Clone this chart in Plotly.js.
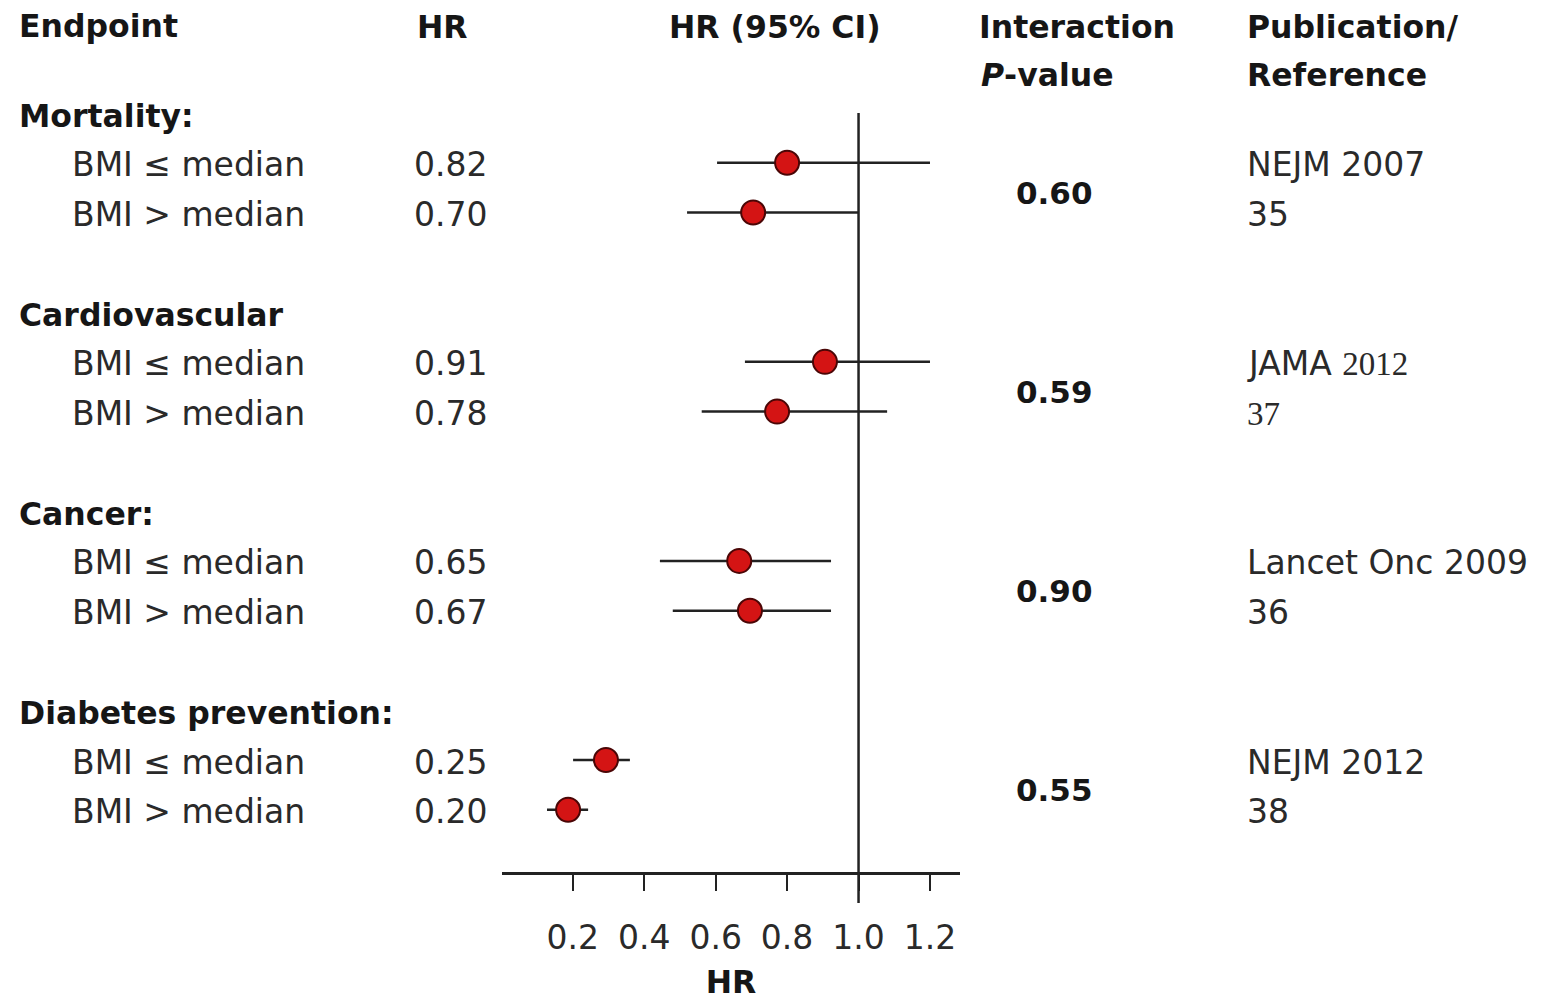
<!DOCTYPE html>
<html>
<head>
<meta charset="utf-8">
<script src="https://cdn.plot.ly/plotly-3.0.1.min.js"></script>
<style>html,body{margin:0;padding:0;background:#fff;}#chart{width:1542px;height:1005px;}</style>
</head>
<body>
<div id="chart"></div>
<script>
// ---------------- data ----------------
const groups = ['Mortality:', 'Cardiovascular', 'Cancer:', 'Diabetes prevention:'];
const groupRows = [0, 4, 8, 12];
const subgroups = ['BMI \u2264 median', 'BMI > median', 'BMI \u2264 median', 'BMI > median',
                   'BMI \u2264 median', 'BMI > median', 'BMI \u2264 median', 'BMI > median'];
const rows = [1, 2, 5, 6, 9, 10, 13, 14];
const hrLabels = ['0.82', '0.70', '0.91', '0.78', '0.65', '0.67', '0.25', '0.20'];
const hrPoint = [0.800, 0.705, 0.906, 0.772, 0.666, 0.696, 0.293, 0.187];
const ciLow   = [0.604, 0.520, 0.682, 0.561, 0.444, 0.480, 0.201, 0.128];
const ciHigh  = [1.200, 1.000, 1.200, 1.080, 0.923, 0.923, 0.360, 0.243];
const pValues = ['0.60', '0.59', '0.90', '0.55'];
const pubNames = ['NEJM', 'JAMA', 'Lancet Onc', 'NEJM'];
const pubYears = ['2007', '2012', '2009', '2012'];
const refNums = ['35', '37', '36', '38'];
const serifRef = [false, true, false, false];
const tickVals = [0.2, 0.4, 0.6, 0.8, 1.0, 1.2];
const tickLabels = ['0.2', '0.4', '0.6', '0.8', '1.0', '1.2'];

// ---------------- layout helpers ----------------
const W = 1542, H = 1005;
const mL = 502, mR = 582, mT = 113, mB = 133;
const plotW = W - mL - mR, plotH = H - mT - mB;
const px = v => (v - mL) / plotW;          // pixel x -> paper x
const py = v => (H - mB - v) / plotH;      // pixel y -> paper y
const TXT = '#2a2a2a';
const SANS = 'DejaVu Sans';
const SERIF = 'Liberation Serif';

const ann = [];
function addText(text, x, y, opts) {
  ann.push(Object.assign({
    text: text, x: x, y: y, xref: 'paper', yref: 'paper', showarrow: false,
    xanchor: 'left', yanchor: 'middle',
    font: {family: SANS, size: 33, color: TXT}
  }, opts || {}));
}
// column headers
const hdrFont = {family: SANS, size: 31.5, color: '#161616'};
addText('<b>Endpoint</b>', px(17), py(26), {font: hdrFont});
addText('<b>HR</b>', px(415), py(27), {font: hdrFont});
addText('<b>HR (95% CI)</b>', px(775), py(27), {xanchor: 'center', font: hdrFont});
addText('<b>Interaction</b>', px(977), py(27), {font: hdrFont});
addText('<b><i>P</i>-value</b>', px(979), py(75), {font: hdrFont});
addText('<b>Publication/</b>', px(1245), py(27), {font: hdrFont});
addText('<b>Reference</b>', px(1245), py(75), {font: hdrFont});

// group headers
groups.forEach((g, i) => {
  addText('<b>' + g + '</b>', px(17), groupRows[i], {yref: 'y', yshift: -3, font: hdrFont});
});
// subgroup rows
subgroups.forEach((s, i) => {
  addText(s, px(70), rows[i], {yref: 'y', yshift: -2});
  addText(hrLabels[i], px(412), rows[i], {yref: 'y', yshift: -2});
});
// p-values and references
pValues.forEach((p, i) => {
  const r1 = rows[2 * i], r2 = rows[2 * i + 1];
  addText('<b>' + p + '</b>', px(1054), (r1 + r2) / 2, {yref: 'y', yshift: -5, xanchor: 'center',
    font: {family: SANS, size: 31, color: '#161616'}});
  const year = serifRef[i] ? '<span style="font-family:' + SERIF + '">' + pubYears[i] + '</span>' : pubYears[i];
  addText(pubNames[i] + ' ' + year, px(1245), r1, {yref: 'y', yshift: -2});
  addText(refNums[i], px(1245), r2, {yref: 'y', yshift: -2,
    font: {family: serifRef[i] ? SERIF : SANS, size: 33, color: TXT}});
});

const trace = {
  type: 'scatter', mode: 'markers',
  x: hrPoint, y: rows,
  marker: {size: 24, color: '#d41414', line: {color: '#4a0606', width: 2}},
  error_x: {
    type: 'data', symmetric: false,
    array: hrPoint.map((v, i) => ciHigh[i] - v),
    arrayminus: hrPoint.map((v, i) => v - ciLow[i]),
    width: 0, thickness: 2.5, color: '#222222'
  },
  hoverinfo: 'x', cliponaxis: false, showlegend: false
};

const layout = {
  width: W, height: H,
  margin: {l: mL, r: mR, t: mT, b: mB, pad: 0},
  paper_bgcolor: '#ffffff', plot_bgcolor: '#ffffff',
  font: {family: SANS, color: TXT},
  showlegend: false,
  xaxis: {
    range: [0.002, 1.284], fixedrange: true,
    tickvals: tickVals, ticktext: tickLabels,
    ticks: 'outside', ticklen: 16, tickwidth: 2, tickcolor: '#222222',
    showline: true, linecolor: '#222222', linewidth: 2.5,
    showgrid: false, zeroline: false,
    tickfont: {family: SANS, size: 33, color: TXT},
    ticklabelstandoff: 19,
    title: {text: '<b>HR</b>', font: {family: SANS, size: 31.5, color: '#161616'}, standoff: 15},
    automargin: false
  },
  yaxis: {
    range: [15.25, 0], visible: false, fixedrange: true, automargin: false
  },
  shapes: [{
    type: 'line', xref: 'x', yref: 'paper', x0: 1, x1: 1, y0: 1, y1: py(903),
    line: {color: '#222222', width: 2.5}
  }],
  annotations: ann
};

Plotly.newPlot('chart', [trace], layout, {displayModeBar: false, staticPlot: true});
</script>
</body>
</html>
